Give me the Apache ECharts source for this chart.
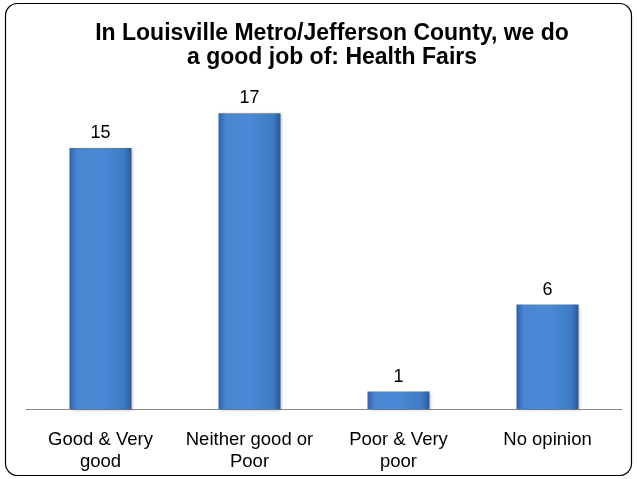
<!DOCTYPE html>
<html>
<head>
<meta charset="utf-8">
<script src="https://cdn.jsdelivr.net/npm/echarts@6/dist/echarts.min.js"></script>
<style>
  html, body { margin: 0; padding: 0; background: #fff; }
  #main { width: 637px; height: 479px; }
</style>
</head>
<body>
<div id="main"></div>
<script>
// data
var categories = ['Good & Very\ngood', 'Neither good or\nPoor', 'Poor & Very\npoor', 'No opinion'];
var values = [15, 17, 1, 6];

var chart = echarts.init(document.getElementById('main'));

var barColor = new echarts.graphic.LinearGradient(0, 0, 1, 0, [
  { offset: 0, color: '#2f62a8' },
  { offset: 0.12, color: '#4a86d2' },
  { offset: 0.5, color: '#4b89d6' },
  { offset: 0.88, color: '#3f7bc6' },
  { offset: 1, color: '#2a5796' }
]);

var option = {
  animation: false,
  title: {
    text: 'In Louisville Metro/Jefferson County, we do\na good job of: Health Fairs',
    left: 327,
    top: 17,
    textAlign: 'center',
    textStyle: {
      fontFamily: 'Liberation Sans, Arial',
      fontSize: 23,
      fontWeight: 'bold',
      lineHeight: 24,
      color: '#000'
    }
  },
  grid: { left: 26, right: 15, top: 61, bottom: 70 },
  xAxis: {
    type: 'category',
    data: categories,
    axisLine: { lineStyle: { color: '#888', width: 1 } },
    axisTick: { show: false },
    axisLabel: {
      interval: 0,
      fontFamily: 'Liberation Sans, Arial',
      fontSize: 18.5,
      lineHeight: 22,
      color: '#000',
      margin: 20
    }
  },
  yAxis: {
    type: 'value',
    min: 0,
    max: 20,
    show: false
  },
  series: [{
    type: 'bar',
    data: values,
    barWidth: 62,
    itemStyle: {
      color: barColor,
      shadowColor: 'rgba(0,0,0,0.25)',
      shadowBlur: 3,
      shadowOffsetX: 1,
      shadowOffsetY: 1
    },
    label: {
      show: true,
      position: 'top',
      distance: 6,
      fontFamily: 'Liberation Sans, Arial',
      fontSize: 18,
      color: '#000'
    }
  }],
  graphic: [{
    type: 'rect',
    shape: { x: 5.5, y: 3.5, width: 626, height: 472, r: 12 },
    style: { fill: 'none', stroke: '#000', lineWidth: 1.2 },
    silent: true
  }]
};

chart.setOption(option);
</script>
</body>
</html>
